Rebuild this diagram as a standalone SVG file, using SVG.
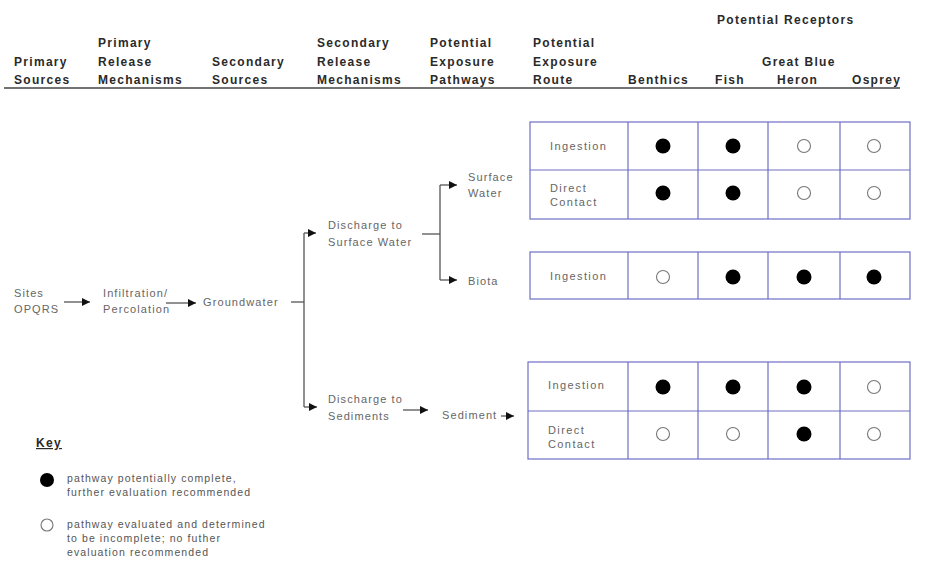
<svg xmlns="http://www.w3.org/2000/svg" width="949" height="562" viewBox="0 0 949 562">
  <style>
    .hdr { font-family: "Liberation Sans", Arial, sans-serif; font-size: 12px; font-weight: bold; fill: #2a2a2a; letter-spacing: 1.3px; }
    .flow { font-family: "Liberation Sans", Arial, sans-serif; font-size: 11px; fill: #666; letter-spacing: 1.1px; }
    .cell { font-family: "Liberation Sans", Arial, sans-serif; font-size: 11px; fill: #666; letter-spacing: 1.4px; }
    .key { font-family: "Liberation Sans", Arial, sans-serif; font-size: 10.5px; fill: #555; letter-spacing: 1.1px; }
    .grid { fill: none; stroke: #6e6ec4; stroke-width: 1.2; }
    .line { fill: none; stroke: #555; stroke-width: 1.3; }
    .full { fill: #000; }
    .open { fill: #fff; stroke: #777; stroke-width: 1.1; }
  </style>
  <defs>
    <marker id="arrow" viewBox="0 0 10 10" refX="10" refY="5" markerWidth="10" markerHeight="8" markerUnits="userSpaceOnUse" orient="auto">
      <path d="M0,0 L10,5 L0,10 Z" fill="#111"/>
    </marker>
  </defs>
  <rect width="949" height="562" fill="#fff"/>

  <!-- column headings -->
  <g id="headings">
    <text class="hdr" x="717" y="24">Potential Receptors</text>
    <text class="hdr" x="14" y="66">Primary</text>
    <text class="hdr" x="14" y="84">Sources</text>
    <text class="hdr" x="98" y="47">Primary</text>
    <text class="hdr" x="98" y="66">Release</text>
    <text class="hdr" x="98" y="84">Mechanisms</text>
    <text class="hdr" x="212" y="66">Secondary</text>
    <text class="hdr" x="212" y="84">Sources</text>
    <text class="hdr" x="317" y="47">Secondary</text>
    <text class="hdr" x="317" y="66">Release</text>
    <text class="hdr" x="317" y="84">Mechanisms</text>
    <text class="hdr" x="430" y="47">Potential</text>
    <text class="hdr" x="430" y="66">Exposure</text>
    <text class="hdr" x="430" y="84">Pathways</text>
    <text class="hdr" x="533" y="47">Potential</text>
    <text class="hdr" x="533" y="66">Exposure</text>
    <text class="hdr" x="533" y="84">Route</text>
    <text class="hdr" x="628" y="84">Benthics</text>
    <text class="hdr" x="715" y="84">Fish</text>
    <text class="hdr" x="762" y="66">Great Blue</text>
    <text class="hdr" x="777" y="84">Heron</text>
    <text class="hdr" x="852" y="84">Osprey</text>
    <line x1="4" y1="88" x2="900" y2="88" stroke="#444" stroke-width="1.5"/>
  </g>

  <!-- flow nodes -->
  <g id="sites"><text class="flow" x="14" y="297">Sites</text><text class="flow" x="14" y="313">OPQRS</text></g>
  <g id="infiltration"><text class="flow" x="103" y="297">Infiltration/</text><text class="flow" x="103" y="313">Percolation</text></g>
  <g id="groundwater"><text class="flow" x="203" y="306">Groundwater</text></g>
  <g id="discharge-surface"><text class="flow" x="328" y="229">Discharge to</text><text class="flow" x="328" y="246">Surface Water</text></g>
  <g id="discharge-sediments"><text class="flow" x="328" y="403">Discharge to</text><text class="flow" x="328" y="420">Sediments</text></g>
  <g id="surface-water"><text class="flow" x="468" y="181">Surface</text><text class="flow" x="468" y="197">Water</text></g>
  <g id="biota"><text class="flow" x="468" y="285">Biota</text></g>
  <g id="sediment"><text class="flow" x="442" y="419">Sediment</text></g>

  <!-- connectors -->
  <g id="connectors">
    <line class="line" x1="64" y1="302" x2="90" y2="302" marker-end="url(#arrow)"/>
    <line class="line" x1="166" y1="303" x2="196" y2="303" marker-end="url(#arrow)"/>
    <line class="line" x1="291" y1="302" x2="304" y2="302"/>
    <line class="line" x1="304" y1="233" x2="304" y2="407"/>
    <line class="line" x1="304" y1="233" x2="316" y2="233" marker-end="url(#arrow)"/>
    <line class="line" x1="304" y1="407" x2="317" y2="407" marker-end="url(#arrow)"/>
    <line class="line" x1="422" y1="234" x2="440" y2="234"/>
    <line class="line" x1="440" y1="185" x2="440" y2="280"/>
    <line class="line" x1="440" y1="185" x2="457" y2="185" marker-end="url(#arrow)"/>
    <line class="line" x1="440" y1="280" x2="457" y2="280" marker-end="url(#arrow)"/>
    <line class="line" x1="403" y1="410" x2="428" y2="410" marker-end="url(#arrow)"/>
    <line class="line" x1="501" y1="416" x2="514" y2="416" marker-end="url(#arrow)"/>
  </g>

  <!-- surface water exposure table -->
  <g id="table-surface-water">
    <rect class="grid" x="530" y="122" width="380" height="97"/>
    <line class="grid" x1="530" y1="170" x2="910" y2="170"/>
    <line class="grid" x1="628" y1="122" x2="628" y2="219"/>
    <line class="grid" x1="698" y1="122" x2="698" y2="219"/>
    <line class="grid" x1="768" y1="122" x2="768" y2="219"/>
    <line class="grid" x1="840" y1="122" x2="840" y2="219"/>
    <text class="cell" x="550" y="150">Ingestion</text>
    <text class="cell" x="550" y="192">Direct</text>
    <text class="cell" x="550" y="206">Contact</text>
    <circle class="full" cx="663" cy="146" r="7.5"/>
    <circle class="full" cx="733" cy="146" r="7.5"/>
    <circle class="open" cx="804" cy="146" r="6.5"/>
    <circle class="open" cx="874" cy="146" r="6.5"/>
    <circle class="full" cx="663" cy="193" r="7.5"/>
    <circle class="full" cx="733" cy="193" r="7.5"/>
    <circle class="open" cx="804" cy="193" r="6.5"/>
    <circle class="open" cx="874" cy="193" r="6.5"/>
  </g>

  <!-- biota exposure table -->
  <g id="table-biota">
    <rect class="grid" x="530" y="252" width="380" height="47"/>
    <line class="grid" x1="628" y1="252" x2="628" y2="299"/>
    <line class="grid" x1="698" y1="252" x2="698" y2="299"/>
    <line class="grid" x1="768" y1="252" x2="768" y2="299"/>
    <line class="grid" x1="840" y1="252" x2="840" y2="299"/>
    <text class="cell" x="550" y="280">Ingestion</text>
    <circle class="open" cx="663" cy="277" r="6.5"/>
    <circle class="full" cx="733" cy="277" r="7.5"/>
    <circle class="full" cx="804" cy="277" r="7.5"/>
    <circle class="full" cx="874" cy="277" r="7.5"/>
  </g>

  <!-- sediment exposure table -->
  <g id="table-sediment">
    <rect class="grid" x="528" y="362" width="382" height="97"/>
    <line class="grid" x1="528" y1="411" x2="910" y2="411"/>
    <line class="grid" x1="628" y1="362" x2="628" y2="459"/>
    <line class="grid" x1="698" y1="362" x2="698" y2="459"/>
    <line class="grid" x1="768" y1="362" x2="768" y2="459"/>
    <line class="grid" x1="840" y1="362" x2="840" y2="459"/>
    <text class="cell" x="548" y="389">Ingestion</text>
    <text class="cell" x="548" y="434">Direct</text>
    <text class="cell" x="548" y="448">Contact</text>
    <circle class="full" cx="663" cy="387" r="7.5"/>
    <circle class="full" cx="733" cy="387" r="7.5"/>
    <circle class="full" cx="804" cy="387" r="7.5"/>
    <circle class="open" cx="874" cy="387" r="6.5"/>
    <circle class="open" cx="663" cy="434" r="6.5"/>
    <circle class="open" cx="733" cy="434" r="6.5"/>
    <circle class="full" cx="804" cy="434" r="7.5"/>
    <circle class="open" cx="874" cy="434" r="6.5"/>
  </g>

  <!-- legend -->
  <g id="key">
    <text class="hdr" x="36" y="447" text-decoration="underline" letter-spacing="0.8">Key</text>
    <circle class="full" cx="47" cy="480" r="7"/>
    <text class="key" x="67" y="482">pathway potentially complete,</text>
    <text class="key" x="67" y="496">further evaluation recommended</text>
    <circle class="open" cx="47" cy="525" r="6"/>
    <text class="key" x="67" y="528">pathway evaluated and determined</text>
    <text class="key" x="67" y="542">to be incomplete; no futher</text>
    <text class="key" x="67" y="556">evaluation recommended</text>
  </g>
</svg>
